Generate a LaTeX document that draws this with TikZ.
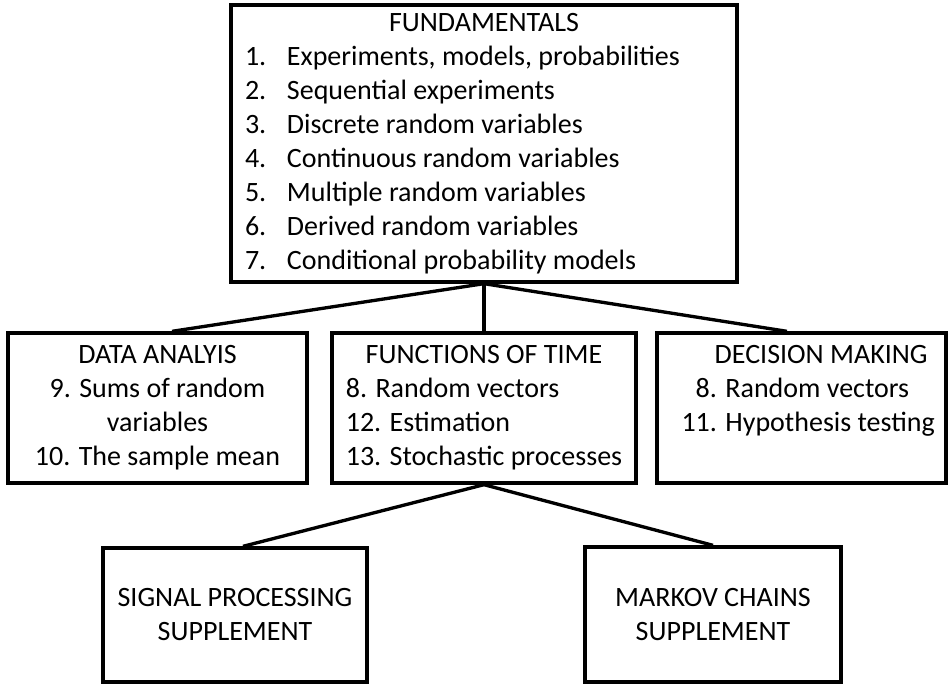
\documentclass[tikz,border=0pt]{standalone}
\usepackage{fontspec}
\setmainfont{Carlito}
\usepackage{tikz}
\usetikzlibrary{positioning}

\begin{document}
\begin{tikzpicture}[
    x=0.75pt, y=-0.75pt,
    box/.style={rectangle, draw, line width=2.5pt, inner sep=0pt, align=center, font=\fontsize{21}{25.5}\selectfont},
    link/.style={line width=2.5pt, color=black}
]
    \useasboundingbox (0,0) rectangle (948,684);
    % top level
    \node[box, minimum width=379.5pt, minimum height=207.75pt] (fund) at (484,143.5) {%
        \begin{tabular}{@{}p{31.5pt}@{}p{327pt}@{}}
        \multicolumn{2}{c}{FUNDAMENTALS}\\
        1. & Experiments, models, probabilities\\
        2. & Sequential experiments\\
        3. & Discrete random variables\\
        4. & Continuous random variables\\
        5. & Multiple random variables\\
        6. & Derived random variables\\
        7. & Conditional probability models
        \end{tabular}};
    % middle row
    \node[box, minimum width=224.25pt, minimum height=112.5pt] (data) at (157.5,408) {DATA ANALYIS\\ 9. Sums of random\\ variables\\ 10. The sample mean};
    \node[box, minimum width=228pt, minimum height=112.5pt] (func) at (484,408) {%
        \begin{tabular}{@{}l@{}}
        \multicolumn{1}{c}{FUNCTIONS OF TIME}\\
        8. Random vectors\\
        12. Estimation\\
        13. Stochastic processes
        \end{tabular}};
    \node[box, minimum width=216.75pt, minimum height=112.5pt] (dec) at (801.5,408) {%
        \begin{tabular}{@{\hspace{10pt}}r@{ }l@{}}
        \multicolumn{2}{@{\hspace{29.5pt}}c@{}}{DECISION MAKING}\\
        8. & Random vectors\\
        11. & Hypothesis testing\\
        \strut & 
        \end{tabular}};
    % supplements
    \node[box, minimum width=198pt, minimum height=100.5pt] (sig) at (235,615) {SIGNAL PROCESSING\\ SUPPLEMENT};
    \node[box, minimum width=192pt, minimum height=101.25pt] (mark) at (713,614.5) {MARKOV CHAINS\\ SUPPLEMENT};
    % links
    \draw[link] (fund.south) -- ([xshift=10.9pt]data.north);
    \draw[link] (fund.south) -- (func.north);
    \draw[link] (fund.south) -- ([xshift=-10.9pt]dec.north);
    \draw[link] (func.south) -- ([xshift=6pt]sig.north);
    \draw[link] (func.south) -- (mark.north);
\end{tikzpicture}
\end{document}
